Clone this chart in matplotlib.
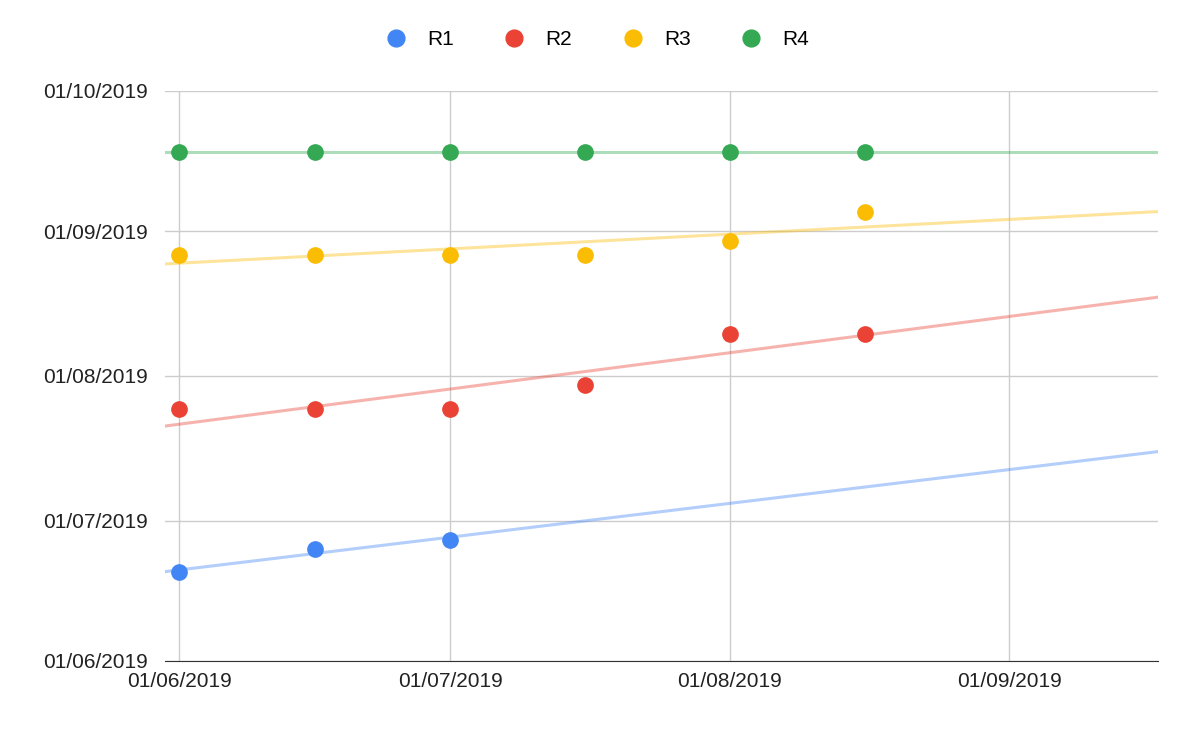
import numpy as np
import matplotlib
matplotlib.use("Agg")
from matplotlib import pyplot as plt
import matplotlib.dates as mdates

plt.rcParams['font.family'] = ['Liberation Sans', 'DejaVu Sans']

# x dates of the samples
x_dates = ["2019-06-01", "2019-06-16", "2019-07-01", "2019-07-16", "2019-08-01", "2019-08-16"]

# y values (dates) per series, None = missing
r1 = ["2019-06-20", "2019-06-25", "2019-06-27", None, None, None]
r2 = ["2019-07-25", "2019-07-25", "2019-07-25", "2019-07-30", "2019-08-10", "2019-08-10"]
r3 = ["2019-08-27", "2019-08-27", "2019-08-27", "2019-08-27", "2019-08-30", "2019-09-05"]
r4 = ["2019-09-18", "2019-09-18", "2019-09-18", "2019-09-18", "2019-09-18", "2019-09-18"]

names = ["R1", "R2", "R3", "R4"]
colors = ["#4285F4", "#EA4335", "#FBBC04", "#34A853"]

def d(s):
    return mdates.date2num(np.datetime64(s))

fig = plt.figure(figsize=(11.92, 7.32), dpi=100)
ax = fig.add_axes([165/1192, 1-661/732, (1158-165)/1192, (661-91)/732])

xlo = d("2019-05-30") + 0.4
xhi = d("2019-09-17") + 0.5
xx = np.array([d(s) for s in x_dates])

for name, col, ser in zip(names, colors, [r1, r2, r3, r4]):
    xs = np.array([xx[i] for i, v in enumerate(ser) if v])
    ys = np.array([d(v) for v in ser if v])
    k, b = np.polyfit(xs, ys, 1)
    lx = np.array([xlo, xhi])
    ax.plot(lx, k*lx + b, color=col, alpha=0.4, lw=2.2, zorder=2)
    ax.plot(xs, ys, "o", color=col, ms=11, label=name, zorder=3)

ax.set_xlim(xlo, xhi)
ax.set_ylim(d("2019-06-01"), d("2019-10-01"))
xt = [d(s) for s in ["2019-06-01", "2019-07-01", "2019-08-01", "2019-09-01"]]
yt = [d(s) for s in ["2019-06-01", "2019-07-01", "2019-08-01", "2019-09-01", "2019-10-01"]]
ax.set_xticks(xt)
ax.set_yticks(yt)
fmt = mdates.DateFormatter("%d/%m/%Y")
ax.xaxis.set_major_formatter(fmt)
ax.yaxis.set_major_formatter(fmt)
ax.grid(True, color="#cccccc", lw=1)
ax.set_axisbelow(True)
for s in ["top", "right", "left"]:
    ax.spines[s].set_visible(False)
ax.spines["bottom"].set_color("#333333")
ax.tick_params(length=0, labelsize=15, colors="#222222", pad=8)
ax.tick_params(axis="y", pad=12)

ax.legend(loc="lower center", bbox_to_anchor=(0.43, 1.04), ncol=4, frameon=False,
          fontsize=15, handletextpad=0.5, columnspacing=1.9, markerscale=1.1)

fig.savefig("out.png", dpi=100)
